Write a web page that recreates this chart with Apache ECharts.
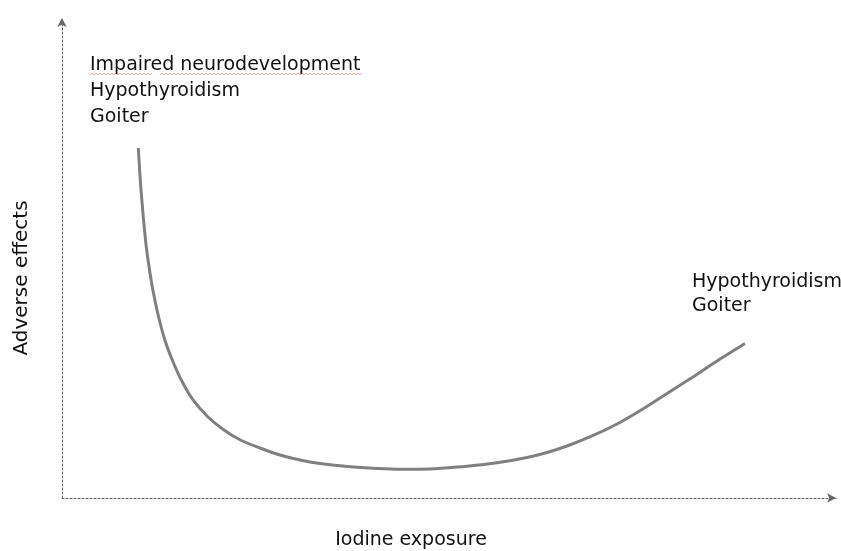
<!DOCTYPE html>
<html>
<head>
<meta charset="utf-8">
<script src="https://cdn.jsdelivr.net/npm/echarts@6/dist/echarts.min.js"></script>
<style>
  html, body { margin: 0; padding: 0; background: #fff; }
  #chart { width: 841px; height: 551px; }
</style>
</head>
<body>
<div id="chart"></div>
<script>
// iodine exposure (relative units) vs adverse effects (relative units)
const exposure = [9.86, 10.21, 10.79, 11.21, 11.74, 12.42, 13.29, 14.25, 15.41, 16.93,
  18.86, 20.93, 23.06, 25.58, 28.17, 30.75, 33.33, 36.56, 40.18, 43.67,
  46.25, 49.48, 52.33, 56.20, 60.08, 62.66, 65.25, 68.48, 71.71, 74.94,
  78.17, 81.40, 84.63, 88.24];
const adverse = [72.92, 64.17, 53.75, 48.54, 43.33, 38.13, 32.92, 28.75, 24.58, 20.42,
  16.88, 14.17, 12.08, 10.42, 8.96, 7.92, 7.19, 6.60, 6.21, 5.98,
  6.00, 6.25, 6.60, 7.33, 8.44, 9.48, 10.83, 12.92, 15.42, 18.44,
  21.77, 25.10, 28.54, 32.19];

const lowLabels = ["Impaired neurodevelopment", "Hypothyroidism", "Goiter"];
const highLabels = ["Hypothyroidism", "Goiter"];
const xName = "Iodine exposure";
const yName = "Adverse effects";

const FONT = "DejaVu Sans";

const chart = echarts.init(document.getElementById("chart"));

const axisLine = {
  show: true,
  symbol: ["none", "arrow"],
  symbolSize: [7, 9],
  lineStyle: { color: "#666", type: [2, 2], width: 1 }
};

// wavy spell-check underline under the first label
const squiggle = (x0, x1, y) => {
  const pts = [];
  for (let x = x0, k = 0; x <= x1; x += 2, k++) pts.push([x, y + (k % 2 ? -1 : 1)]);
  return {
    type: "polyline",
    shape: { points: pts },
    style: { stroke: "#f2a0a0", lineWidth: 1, fill: null }
  };
};

const option = {
  backgroundColor: "#fff",
  animation: false,
  grid: { left: 62, right: 5, top: 18, bottom: 53 },
  xAxis: {
    type: "value",
    min: 0,
    max: 100,
    axisLine: axisLine,
    axisTick: { show: false },
    axisLabel: { show: false },
    splitLine: { show: false }
  },
  yAxis: {
    type: "value",
    min: 0,
    max: 100,
    axisLine: axisLine,
    axisTick: { show: false },
    axisLabel: { show: false },
    splitLine: { show: false }
  },
  series: [
    {
      type: "line",
      data: exposure.map((x, i) => [x, adverse[i]]),
      smooth: 0.35,
      showSymbol: false,
      lineStyle: { color: "#808080", width: 3 }
    }
  ],
  graphic: [
    squiggle(90, 152, 74),
    squiggle(160, 363, 74),
    {
      type: "text",
      left: 90,
      top: 52,
      style: {
        text: lowLabels.join("\n"),
        font: "19px " + FONT,
        lineHeight: 26,
        fill: "#111"
      }
    },
    {
      type: "text",
      left: 692,
      top: 270,
      style: {
        text: highLabels.join("\n"),
        font: "19px " + FONT,
        lineHeight: 24,
        fill: "#111"
      }
    },
    {
      type: "text",
      x: 411,
      y: 540,
      style: {
        text: xName,
        font: "19px " + FONT,
        fill: "#111",
        align: "center",
        verticalAlign: "middle"
      }
    },
    {
      type: "text",
      x: 22,
      y: 278,
      rotation: Math.PI / 2,
      style: {
        text: yName,
        font: "20px " + FONT,
        fill: "#111",
        align: "center",
        verticalAlign: "middle"
      }
    }
  ]
};

chart.setOption(option);
</script>
</body>
</html>
